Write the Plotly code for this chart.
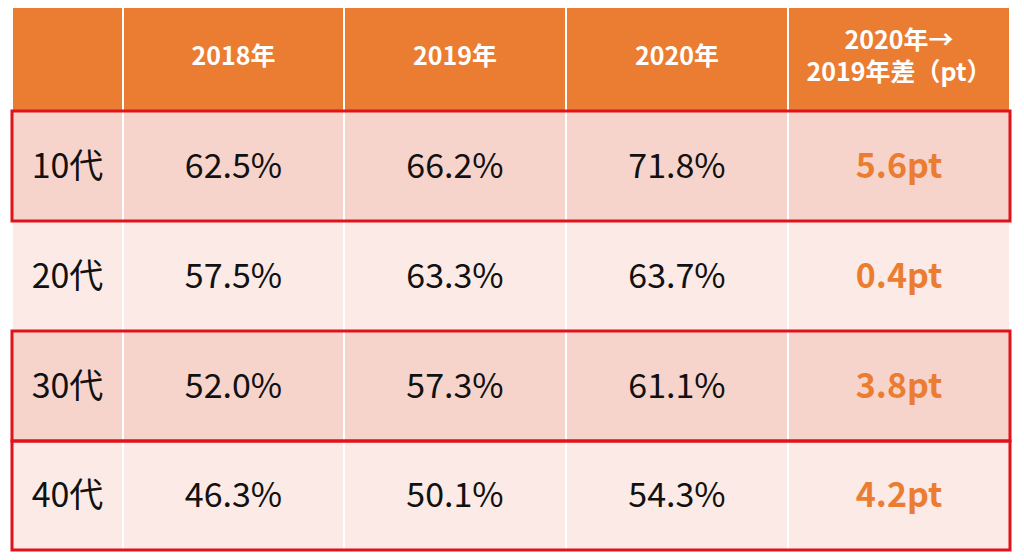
import plotly.graph_objects as go

# table content
ages = ["10代", "20代", "30代", "40代"]
header = ["", "2018年", "2019年", "2020年", "2020年→<br>2019年差（pt）"]
v2018 = [62.5, 57.5, 52.0, 46.3]
v2019 = [66.2, 63.3, 57.3, 50.1]
v2020 = [71.8, 63.7, 61.1, 54.3]
diff_pt = [5.6, 0.4, 3.8, 4.2]
highlighted = [True, False, True, True]  # rows boxed in red

# geometry of the table in window pixels; the page body has an 8px margin,
# so the axes are offset by 8 to keep them 1:1 with the window
W, H = 1024, 560
OFF = 8
col_edges = [12, 123, 344, 566, 788, 1010]
row_edges = [4, 111, 221, 331, 441, 550]
TEXT_DY = 3  # CJK font sits a little high, nudge body text down

ORANGE = "#EB7D32"
PINK_DARK = "#F7D4CB"
PINK_LIGHT = "#FBEAE5"
RED = "#E0121C"
FONT = "Noto Sans CJK JP"

col_mid = [(a + b) / 2 for a, b in zip(col_edges[:-1], col_edges[1:])]
row_mid = [(a + b) / 2 for a, b in zip(row_edges[:-1], row_edges[1:])]
body_y = [y + TEXT_DY for y in row_mid[1:]]

# fill level per cell: 0 header, 1 dark band, 2 light band
z = [[0] * 5] + [[1 if i % 2 == 0 else 2] * 5 for i in range(len(ages))]

fig = go.Figure()

fig.add_trace(go.Heatmap(
    x=col_edges, y=row_edges, z=z,
    zmin=0, zmax=2,
    colorscale=[[0, ORANGE], [0.5, PINK_DARK], [1, PINK_LIGHT]],
    showscale=False, xgap=2, ygap=2, hoverinfo="skip",
))

# header text
fig.add_trace(go.Scatter(
    x=col_mid[1:], y=[row_mid[0] + 1] * 4, text=header[1:],
    mode="text", hoverinfo="skip",
    textfont=dict(family=FONT, size=25, color="white", weight="bold"),
))

# age labels
fig.add_trace(go.Scatter(
    x=[col_mid[0]] * len(ages), y=body_y, text=ages,
    mode="text", hoverinfo="skip",
    textfont=dict(family=FONT, size=34, color="#111111"),
))

# yearly values
for ci, vals in enumerate([v2018, v2019, v2020], start=1):
    fig.add_trace(go.Scatter(
        x=[col_mid[ci]] * len(vals), y=body_y,
        text=[f"{v:.1f}%" for v in vals],
        mode="text", hoverinfo="skip",
        textfont=dict(family=FONT, size=34, color="#111111"),
    ))

# difference column
fig.add_trace(go.Scatter(
    x=[col_mid[4]] * len(diff_pt), y=body_y,
    text=[f"{d:.1f}pt" for d in diff_pt],
    mode="text", hoverinfo="skip",
    textfont=dict(family=FONT, size=34, color=ORANGE, weight="bold"),
))

# red boxes round the highlighted rows
for i, flag in enumerate(highlighted):
    if flag:
        fig.add_shape(
            type="rect", xref="x", yref="y",
            x0=col_edges[0], x1=col_edges[-1],
            y0=row_edges[i + 1], y1=row_edges[i + 2],
            line=dict(color=RED, width=3), layer="above",
        )

fig.update_layout(
    width=W, height=H,
    margin=dict(l=0, r=0, t=0, b=0),
    plot_bgcolor="white", paper_bgcolor="white",
    showlegend=False,
    xaxis=dict(range=[OFF, W + OFF], visible=False, fixedrange=True),
    yaxis=dict(range=[H + OFF, OFF], visible=False, fixedrange=True),
)

fig.write_html("out.html")
